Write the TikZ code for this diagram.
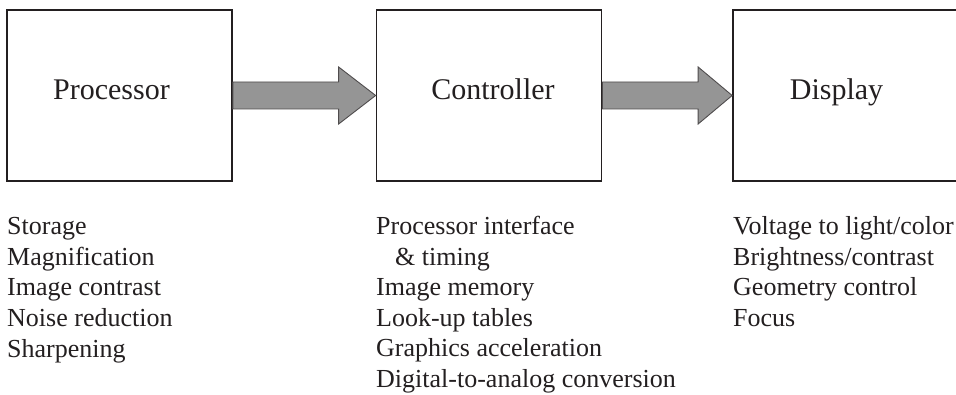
\documentclass[tikz,border=0pt]{standalone}
\usepackage{fontspec}
\setmainfont{Liberation Serif}
\usetikzlibrary{calc}
\definecolor{arrowfill}{HTML}{959595}
\definecolor{edge}{HTML}{231F20}
\tikzset{
  blockbox/.style={draw=edge, line width=1.7pt, minimum width=225pt, minimum height=171pt, inner sep=0pt},
  boxlabel/.style={font=\fontsize{30}{36}\selectfont, anchor=base, inner sep=0pt, text=edge},
  listitem/.style={font=\fontsize{26}{30}\selectfont, anchor=base west, inner sep=0pt, text=edge},
  fatarrow/.style={draw=edge!80, line width=0.9pt, fill=arrowfill, line join=miter}
}
\begin{document}
\begin{tikzpicture}[x=1pt, y=-1pt]
\useasboundingbox (0,0) rectangle (956,395);
\node[blockbox] (proc) at (119.5,95.5) {};
\node[blockbox] (ctrl) at (489,95.5) {};
\node[blockbox, minimum width=240pt] (disp) at (853,95.5) {};
\node[boxlabel] (proclab) at (111.5,100) {Processor};
\node[boxlabel] (ctrllab) at (493,100) {Controller};
\node[boxlabel] (displab) at (836.5,100) {Display};
% fat arrows
\draw[fatarrow] ($(proc.east)+(0,-13.5)$) -- ($(ctrl.west)+(-37,-13.5)$) -- ($(ctrl.west)+(-37,-28.5)$)
  -- (ctrl.west) -- ($(ctrl.west)+(-37,28.5)$) -- ($(ctrl.west)+(-37,13.5)$) -- ($(proc.east)+(0,13.5)$) -- cycle;
\draw[fatarrow] ($(ctrl.east)+(0,-13.5)$) -- ($(disp.west)+(-34,-13.5)$) -- ($(disp.west)+(-34,-28.5)$)
  -- (disp.west) -- ($(disp.west)+(-34,28.5)$) -- ($(disp.west)+(-34,13.5)$) -- ($(ctrl.east)+(0,13.5)$) -- cycle;
% lists
\foreach \t [count=\i] in {Storage, Magnification, Image contrast, Noise reduction, Sharpening}
  \node[listitem] (p\i) at (7,{235+(\i-1)*30.5}) {\t};
\foreach \t/\dx [count=\i] in {Processor interface/0, \& timing/19, Image memory/0, Look-up tables/0, Graphics acceleration/0, Digital-to-analog conversion/0}
  \node[listitem] (c\i) at ({376+\dx},{235+(\i-1)*30.4}) {\t};
\foreach \t [count=\i] in {Voltage to light/color, Brightness/contrast, Geometry control, Focus}
  \node[listitem] (d\i) at (733,{235+(\i-1)*30.5}) {\t};
\end{tikzpicture}
\end{document}
